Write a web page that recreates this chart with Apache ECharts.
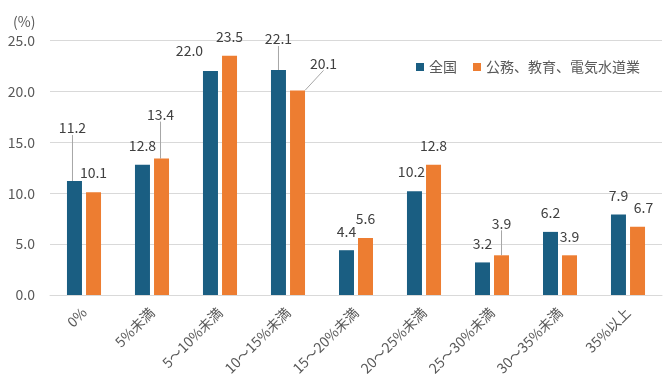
<!DOCTYPE html>
<html>
<head>
<meta charset="utf-8">
<script src="https://cdn.jsdelivr.net/npm/echarts@6/dist/echarts.min.js"></script>
<style>
html,body{margin:0;padding:0;background:#fff;}
#chart{width:671px;height:390px;}
</style>
</head>
<body>
<div id="chart"></div>
<script>
// ---- data ----
const categories = ['0%', '5%未満', '5～10%未満', '10～15%未満', '15～20%未満', '20～25%未満', '25～30%未満', '30～35%未満', '35%以上'];
const seriesNames = ['全国', '公務、教育、電気水道業'];
const nationalValues = [11.2, 12.8, 22.0, 22.1, 4.4, 10.2, 3.2, 6.2, 7.9];
const publicValues = [10.1, 13.4, 23.5, 20.1, 5.6, 12.8, 3.9, 3.9, 6.7];
const yTicks = [0, 5, 10, 15, 20, 25];

// ---- label placement (style, not data) ----
// [dx, dy, showLeaderLine]
const nationalLabelShift = [[-2, -34, true], [0, 0, false], [-21, -1, false], [0, -12, true], [0, 0, false], [-3, 0, false], [0, 0, false], [0, 0, false], [0, 0, false]];
const publicLabelShift = [[0, 0, false], [-1, -25, true], [0, 0, false], [26, -8, true], [0, 0, false], [0, 0, false], [0, -13, true], [0, 0, false], [6, 0, false]];
const shifts = [nationalLabelShift, publicLabelShift];

const FONT = "'Noto Sans CJK JP', 'Noto Sans', sans-serif";
const TXT = '#595959';

function buildData(values, shift) {
  return values.map((v, i) => ({
    value: v,
    labelLine: { show: shift[i][2] }
  }));
}

const chart = echarts.init(document.getElementById('chart'), null, { renderer: 'canvas' });
const labelCommon = {
  show: true,
  position: 'top',
  distance: 12,
  fontSize: 14,
  color: '#404040',
  fontFamily: FONT,
  formatter: p => p.value.toFixed(1)
};
const option = {
  animation: false,
  textStyle: { fontFamily: FONT },
  grid: { left: 50, right: 9, top: 40.5, bottom: 95 },
  legend: {
    left: 411, top: 55,
    icon: 'rect', itemWidth: 8, itemHeight: 8, itemGap: 16,
    textStyle: { fontSize: 14, color: TXT, fontFamily: FONT },
    data: seriesNames
  },
  graphic: [{
    type: 'text', left: 13, top: 15,
    style: { text: '(%)', fontSize: 14, fill: TXT, fontFamily: FONT }
  }],
  xAxis: {
    type: 'category',
    data: categories,
    axisLine: { lineStyle: { color: '#D9D9D9' } },
    axisTick: { show: false },
    axisLabel: { rotate: 45, interval: 0, fontSize: 14, color: TXT, margin: 15, fontFamily: FONT }
  },
  yAxis: {
    type: 'value',
    min: yTicks[0], max: yTicks[yTicks.length - 1], interval: yTicks[1] - yTicks[0],
    axisLine: { show: false },
    axisTick: { show: false },
    splitLine: { lineStyle: { color: '#D9D9D9' } },
    axisLabel: { fontSize: 14, color: TXT, margin: 15, fontFamily: FONT, formatter: v => v.toFixed(1) }
  },
  series: [
    {
      name: seriesNames[0], type: 'bar',
      data: buildData(nationalValues, nationalLabelShift),
      itemStyle: { color: '#1A5E82' },
      barWidth: 15, barGap: '27%',
      label: labelCommon,
      labelLine: { show: false, lineStyle: { color: '#A6A6A6', width: 1 } },
      labelLayout: p => ({ dx: shifts[p.seriesIndex][p.dataIndex][0], dy: shifts[p.seriesIndex][p.dataIndex][1] })
    },
    {
      name: seriesNames[1], type: 'bar',
      data: buildData(publicValues, publicLabelShift),
      itemStyle: { color: '#ED7D31' },
      barWidth: 15,
      label: labelCommon,
      labelLine: { show: false, lineStyle: { color: '#A6A6A6', width: 1 } },
      labelLayout: p => ({ dx: shifts[p.seriesIndex][p.dataIndex][0], dy: shifts[p.seriesIndex][p.dataIndex][1] })
    }
  ]
};
chart.setOption(option);
</script>
</body>
</html>
